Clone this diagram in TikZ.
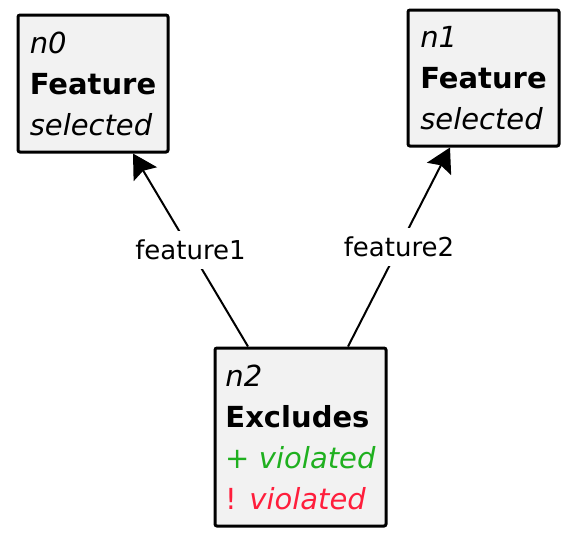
\documentclass[tikz,border=0pt]{standalone}
\usepackage{fontspec}
\setmainfont{DejaVu Sans}
\usetikzlibrary{arrows.meta}
\definecolor{boxfill}{HTML}{F2F2F2}
\definecolor{okgreen}{HTML}{1FB01F}
\definecolor{badred}{HTML}{FF1E3C}
\tikzset{
  elem/.style={draw=black, line width=3pt, fill=boxfill, rounded corners=2pt,
    align=left, inner sep=0pt,
    font=\fontsize{29}{41}\selectfont},
  conn/.style={line width=2pt, -{Stealth[length=24pt,width=27pt,inset=4pt]}},
  lbl/.style={fill=white, inner xsep=4pt, inner ysep=9pt, font=\fontsize{26}{30}\selectfont}
}
\begin{document}
\begin{tikzpicture}[x=1pt,y=-1pt]
\useasboundingbox (0,0) rectangle (572,539);
\node[elem, minimum width=150pt, minimum height=137pt] (n0) at (93,83.5)
  {\textit{n0}\\\textbf{Feature}\\\textit{selected}};
\node[elem, minimum width=151pt, minimum height=136pt] (n1) at (483.5,78)
  {\textit{n1}\\\textbf{Feature}\\\textit{selected}};
\node[elem, minimum width=171pt, minimum height=178pt] (n2) at (300.5,437)
  {\textit{n2}\\\textbf{Excludes}\\{\color{okgreen}+ \textit{violated}}\\{\color{badred}! \textit{violated}}};
\draw[conn] ([xshift=-52.5pt]n2.north) -- node[lbl] (l1) {feature1} ([xshift=40pt]n0.south);
\draw[conn] ([xshift=47.5pt]n2.north) -- node[lbl] (l2) {feature2} ([xshift=-33.5pt]n1.south);
\end{tikzpicture}
\end{document}
